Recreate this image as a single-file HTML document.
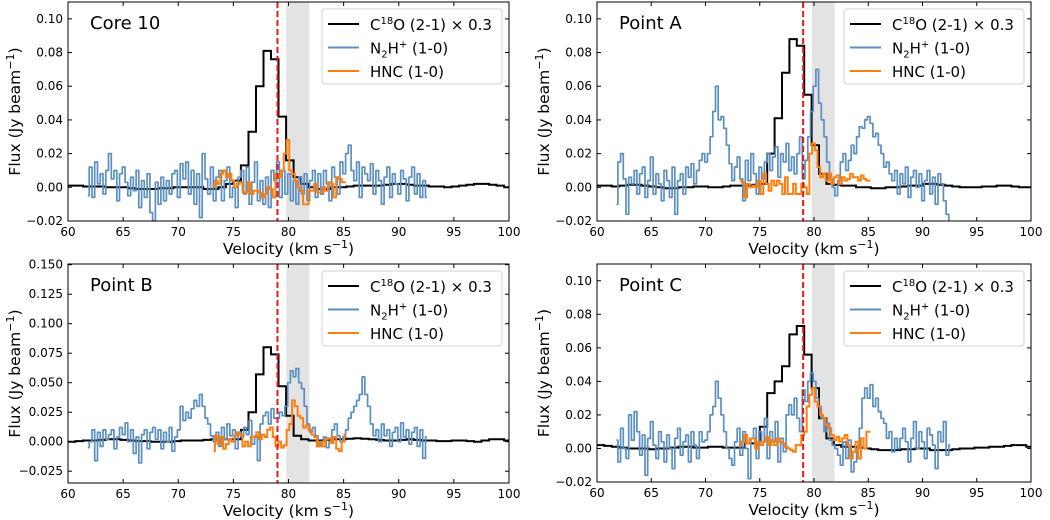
<!DOCTYPE html>
<html><head><meta charset="utf-8"><style>
html,body{margin:0;padding:0;background:#fff;}
svg{display:block;font-family:"DejaVu Sans","Liberation Sans",sans-serif;}
</style></head><body>
<svg id="fig" width="1050" height="520" viewBox="0 0 1050 520" xmlns="http://www.w3.org/2000/svg"></svg>
<script>
// ---- data ----
const c18oBinStart = 60, c18oBinWidth = 0.682;
const n2hStart = 61.8, n2hStep = 0.25;
const hncStart = 73.2, hncStep = 0.25;
const panelTitles = ["Core 10", "Point A", "Point B", "Point C"];
const xTicks = [60, 65, 70, 75, 80, 85, 90, 95, 100];
const yTicksTop = [-0.02, 0, 0.02, 0.04, 0.06, 0.08, 0.10];
const yTickLabelsTop = ["\u22120.02", "0.00", "0.02", "0.04", "0.06", "0.08", "0.10"];
const yTicksB = [-0.025, 0, 0.025, 0.05, 0.075, 0.1, 0.125, 0.15];
const yTickLabelsB = ["\u22120.025", "0.000", "0.025", "0.050", "0.075", "0.100", "0.125", "0.150"];
const systemicVel = 79.0;
const bandRange = [79.8, 81.9];

const c18oCore10 = [0.001,0.001,0.0005,0.0005,0.0005,0,0,0,-0.0005,-0.001,-0.001,-0.001,-0.0005,-0.0005,0,0,0,0,-0.001,-0.001,0,0.002,
 0.004,0.013,0.033,0.060,0.081,0.076,0.042,0.016,0.006,
 0.002,0,-0.001,-0.001,0,0,0.0005,0.001,0.001,0.001,0.001,0.0015,0.002,0.002,0.0015,0.001,0.001,0.0005,0.0005,0,0.0005,0.001,0.0015,0.002,0.002,0.0015,0.001,0];
const c18oA = [0.001,0.001,0.0005,0.001,0.0015,0.0015,0.001,0.0005,0,-0.0005,-0.0005,0,0,0.0005,0.0005,0,0,0.0005,0.001,0.001,0.001,0.0015,
 0.002,0.020,0.041,0.068,0.088,0.084,0.055,0.025,0.008,
 0.002,0.0015,0.001,0.001,0,0,-0.0005,-0.0005,0,0,0.0005,0.001,0.001,0.002,0.002,0.0015,0.001,0.0005,0,0,0,0.0005,0.0005,0.001,0.001,0.0005,0,0];
const c18oB = [0,0.0005,0.001,0.001,0.0015,0.002,0.002,0.0015,0.001,0.0005,0.0005,0,0,0,0.0005,0.001,0.001,0.001,0.0015,0.002,0.002,0.002,
 0.002,0.010,0.025,0.057,0.080,0.074,0.047,0.022,0.005,
 0.002,0.001,0.001,0.0015,0.002,0.002,0.0025,0.003,0.0025,0.002,0.0015,0.001,0.001,0.0015,0.002,0.0015,0.001,0.001,0.0005,0.0005,0.001,0.001,0.0005,0,0.001,0.002,0.002,0.001];
const c18oC = [0.002,0.0015,0.001,0.0005,0,0,0,-0.0005,0,0,0.0005,0.001,0.001,0.0005,0.0005,0.001,0.001,0.0005,0.0005,0.0005,0.003,0.003,
 0.013,0.033,0.040,0.049,0.068,0.073,0.056,0.036,0.018,0.006,0.002,
 0.001,0.001,0.0005,0,-0.0005,-0.001,-0.001,-0.001,-0.0005,-0.0005,0,0,-0.001,-0.001,-0.001,-0.0005,0,0,0.0005,0.0005,0.001,0.001,0.0015,0.002,0.002,0.001];

const n2hCore10 = [-0.005,0.012,-0.006,0.015,0.002,0.008,-0.004,0.01,0.02,
 0.005,0.01,-0.008,0.008,0.012,0.003,-0.005,0.006,
 -0.002,0.01,-0.012,0.004,-0.006,0.008,-0.015,-0.02,
 0.003,-0.01,0.006,-0.008,0.004,-0.004,0.008,0.01,
 -0.006,0.014,0.005,0.015,-0.004,0.01,-0.01,0.008,
 -0.018,0.02,0.005,-0.004,0.012,-0.008,0.006,0.01,
 -0.008,0.004,0.012,-0.006,0,-0.012,0.006,0.01,
 -0.004,0.012,-0.01,0.003,0.015,-0.008,0.004,-0.01,
 0.006,-0.012,0.01,0.004,0.015,-0.006,0.01,-0.004,
 0.008,-0.008,0.004,-0.01,0.006,-0.004,0.008,-0.008,
 0.004,0.01,-0.006,0.008,-0.004,0.01,0.002,-0.008,
 0.012,0.006,-0.004,0.015,0.008,0.02,0.025,0.01,
 0.004,0.015,-0.006,0.012,0.008,0.004,0.014,-0.004,
 0.01,0.004,-0.01,0.006,0.012,-0.006,0.008,0.002,
 -0.004,0.01,0.005,-0.008,0.006,0.012,-0.004,0.008,
 -0.006,0.004,-0.006];
const n2hA = [-0.01,0.015,0.02,0.005,-0.016,0.006,0.002,0.01,-0.004,
 0.008,0.012,-0.006,0.004,0.018,-0.004,0.008,0.002,
 -0.008,0.01,0.004,-0.006,0.012,-0.016,0.004,0.008,
 -0.004,0.012,0.006,0.014,0.002,0.01,0.016,0.02,
 0.015,0.02,0.03,0.045,0.06,0.04,0.042,0.035,
 0.025,0.014,0.004,0.012,0.018,0.005,-0.008,0.016,
 0.004,0.02,0.008,-0.004,0.012,0.005,0.015,0.02,
 0.01,0.018,0.024,0.006,0.02,0.015,0.026,0.01,
 0.018,0.008,0.02,0.03,0.005,0.016,0.03,0.045,
 0.06,0.07,0.05,0.04,0.03,0.015,0.005,0,
 -0.005,0.004,0.015,0.02,0.01,0.016,0.025,0.02,
 0.03,0.036,0.035,0.04,0.042,0.038,0.03,0.032,
 0.025,0.02,0.012,0.015,0.008,0.004,0.01,-0.004,
 0.008,0.002,0.012,-0.006,0.006,0.01,0,0.008,
 -0.008,0.004,0.01,-0.004,0.006,-0.01,0.008,0.002,
 -0.008,-0.016,-0.025];
const n2hB = [-0.005,0,0.01,-0.016,0.008,-0.004,0.01,0.002,0.006,
 0.01,-0.006,0.004,0.012,0.006,0.016,0,0.01,
 -0.01,0.004,-0.018,0.006,0.01,-0.006,0.008,0.012,
 0.002,0.01,-0.006,0.008,0,0.012,-0.008,0.004,
 0.01,0.03,0.018,0.025,0.02,0.028,0.035,0.03,
 0.04,0.03,0.02,0.015,0.005,0,0.008,-0.004,
 0.012,0.002,0.015,0.005,0.01,-0.006,0.008,0.004,
 0.012,0.006,0.018,-0.002,0.005,-0.016,0.015,0.022,
 0.025,0.015,0.028,0.02,0.02,0.025,0.022,0.03,
 0.05,0.06,0.055,0.062,0.05,0.045,0.03,0.015,
 0.008,0.012,0.005,-0.004,0,0.004,-0.005,0,
 0.01,0.015,0.005,0,0.004,0.01,0.02,0.025,
 0.03,0.035,0.04,0.055,0.04,0.03,0.015,0.005,
 0.01,0,0.015,0.005,0.01,-0.004,0.008,0.012,
 0,0.016,0.004,0.01,-0.002,0.008,0.012,-0.004,
 0.01,-0.014,0.004];
const n2hC = [0.005,-0.008,0.012,0,-0.006,0.02,0.005,0.022,0.01,
 -0.004,0.008,-0.016,0.006,0.016,0.002,-0.006,0.01,
 0.004,-0.008,0.008,0,-0.012,0.006,0.012,-0.004,
 0.004,0.008,-0.008,0.01,0.002,-0.006,0.01,0.004,
 0.005,0.01,0.02,0.025,0.04,0.03,0.02,0.01,
 0,-0.006,-0.01,0.004,0.012,-0.004,0.01,0,
 -0.018,0.006,0.012,-0.006,0.01,0.004,0.018,-0.006,
 0.01,0.004,0.016,-0.008,0.006,-0.002,0.02,0.026,
 0.02,0.03,0.018,0.01,0.035,0.028,0.04,0.045,
 0.04,0.03,0.025,0.018,0.01,0.015,0.005,0.002,
 0,-0.004,-0.01,0.004,-0.006,0.005,-0.014,-0.008,
 0,0.012,0.03,0.036,0.03,0.038,0.025,0.03,
 0.022,0.018,0.015,0.006,0.01,-0.002,0.006,0,
 0.006,0.012,0.004,-0.008,0.006,0.016,0,0.01,
 0.004,-0.006,0.012,0.008,0.002,-0.012,0.01,0.004,
 0.016,-0.004,0.002];

const hncCore10 = [0,0.004,0.002,0.008,0.01,0.006,0.008,0.004,
 0,0.002,0.003,-0.003,-0.003,0.003,-0.004,-0.002,
 -0.002,-0.003,-0.006,-0.004,0,-0.001,-0.006,0.008,
 0.006,0.01,0.02,0.028,0.01,0.008,0.004,0,
 -0.002,-0.01,-0.01,-0.002,-0.002,0.002,-0.003,-0.003,
 0,-0.002,0.003,0.002,-0.006,0.006,0.005,0.003,0.003];
const hncA = [0.004,0.003,-0.006,0.002,0,0.001,0,0.004,
 -0.004,0.008,0.002,-0.002,0.004,0.001,0.004,0.002,
 -0.004,0.006,-0.004,-0.004,0.002,-0.004,-0.004,0.002,
 0,-0.004,0.02,0.026,0.022,0.012,0.006,0.008,
 0.004,0.008,0.002,0.006,0.007,0.002,0.006,0.004,
 0.005,0.008,0.006,0.006,0.004,0.007,0.005,0.004,0.004];
const hncB = [-0.008,0.005,-0.002,0.004,-0.006,-0.002,0.002,0,
 0.005,0.008,0.006,-0.004,0,-0.004,0.004,0.004,
 0.008,0.002,0.006,0.004,0.01,0.012,0.004,-0.004,
 0,-0.005,-0.003,0.01,0.015,0.035,0.03,0.022,
 0.02,0.012,0.014,0.01,0.006,0.004,-0.004,0,
 -0.004,0.002,0.003,-0.001,0.004,-0.006,-0.008,0,0.006];
const hncC = [0.002,0.004,0.008,0.003,0.006,0.006,0,0.004,
 0.002,0.004,0.007,0.002,0.005,0.002,0.006,0.004,
 0.003,0.001,0,-0.001,-0.002,0.002,0.002,0.008,
 0.01,0.025,0.032,0.036,0.028,0.025,0.02,0.018,
 0.014,0.012,0.008,0.005,0.007,0.004,0.006,0.008,
 0.002,-0.006,-0.002,0.004,-0.006,0.006,0,0.01,0.01];

// ---- layout ----
const panels = [
  {l:68,r:509,t:2,b:221,ymin:-0.02,ymax:0.11,yt:yTicksTop,yl:yTickLabelsTop,c18o:c18oCore10,n2h:n2hCore10,hnc:hncCore10,title:panelTitles[0],name:"core-10"},
  {l:597,r:1031,t:2,b:221,ymin:-0.02,ymax:0.11,yt:yTicksTop,yl:yTickLabelsTop,c18o:c18oA,n2h:n2hA,hnc:hncA,title:panelTitles[1],name:"point-a"},
  {l:68,r:509,t:264,b:483,ymin:-0.035,ymax:0.1506,yt:yTicksB,yl:yTickLabelsB,c18o:c18oB,n2h:n2hB,hnc:hncB,title:panelTitles[2],name:"point-b"},
  {l:597,r:1031,t:264,b:482,ymin:-0.02,ymax:0.11,yt:yTicksTop,yl:yTickLabelsTop,c18o:c18oC,n2h:n2hC,hnc:hncC,title:panelTitles[3],name:"point-c"}
];
const NS = "http://www.w3.org/2000/svg";
const svg = document.getElementById("fig");
function mk(tag, attrs, parent){
  const e = document.createElementNS(NS, tag);
  for (const k in attrs) e.setAttribute(k, attrs[k]);
  (parent||svg).appendChild(e);
  return e;
}
panels.forEach(p => {
  const g = mk("g", {});
  
  
  const xs = v => p.l + (v - 60) / 40 * (p.r - p.l);
  const ys = v => p.b - (v - p.ymin) / (p.ymax - p.ymin) * (p.b - p.t);
  const clip = mk("clipPath", {id: "clip-" + p.name}, g);
  mk("rect", {x:p.l, y:p.t, width:p.r-p.l, height:p.b-p.t}, clip);
  const plot = mk("g", {"clip-path": "url(#clip-" + p.name + ")"}, g);
  const band = mk("rect", {x:xs(bandRange[0]), y:p.t, width:xs(bandRange[1])-xs(bandRange[0]), height:p.b-p.t, fill:"#e3e3e3"}, plot);
  
  
  function midPath(start, step, vals){
    let d = "";
    vals.forEach((v, i) => {
      const x0 = xs(start + (i - 0.5) * step), x1 = xs(start + (i + 0.5) * step);
      const y = ys(v);
      d += (i === 0 ? "M" + xs(start).toFixed(1) + "," + y.toFixed(1) : "L" + x0.toFixed(1) + "," + y.toFixed(1));
      d += " L" + (i === vals.length - 1 ? xs(start + i * step) : x1).toFixed(1) + "," + y.toFixed(1) + " ";
    });
    return d;
  }
  function binPath(vals){
    let d = "";
    vals.forEach((v, i) => {
      const x0 = xs(c18oBinStart + i * c18oBinWidth), x1 = xs(c18oBinStart + (i + 1) * c18oBinWidth);
      const y = ys(v);
      d += (i === 0 ? "M" : "L") + x0.toFixed(1) + "," + y.toFixed(1) + " L" + x1.toFixed(1) + "," + y.toFixed(1) + " ";
    });
    return d;
  }
  const l1 = mk("path", {d: binPath(p.c18o), fill:"none", stroke:"#000", "stroke-width":2}, plot);
  
  
  const l2 = mk("path", {d: midPath(n2hStart, n2hStep, p.n2h), fill:"none", stroke:"#5b8fc2", "stroke-width":1.7, "stroke-linejoin":"round"}, plot);
  
  
  const l3 = mk("path", {d: midPath(hncStart, hncStep, p.hnc), fill:"none", stroke:"#ff7f0e", "stroke-width":2}, plot);
  
  
  const rl = mk("line", {x1:xs(systemicVel), x2:xs(systemicVel), y1:p.t, y2:p.b, stroke:"#e8161b", "stroke-width":2, "stroke-dasharray":"6,3"}, plot);
  
  
  mk("rect", {x:p.l, y:p.t, width:p.r-p.l, height:p.b-p.t, fill:"none", stroke:"#000", "stroke-width":1}, g);
  xTicks.forEach(v => {
    const x = xs(v);
    mk("line", {x1:x, x2:x, y1:p.b, y2:p.b-4, stroke:"#000"}, g);
    mk("line", {x1:x, x2:x, y1:p.t, y2:p.t+4, stroke:"#000"}, g);
    const t = mk("text", {x:x, y:p.b+15, "font-size":12, "text-anchor":"middle"}, g);
    t.textContent = v;
    
    
  });
  p.yt.forEach((v, i) => {
    const y = ys(v);
    mk("line", {x1:p.l, x2:p.l+4, y1:y, y2:y, stroke:"#000"}, g);
    mk("line", {x1:p.r, x2:p.r-4, y1:y, y2:y, stroke:"#000"}, g);
    const t = mk("text", {x:p.l-5, y:y+4, "font-size":12, "text-anchor":"end"}, g);
    t.textContent = p.yl[i];
    
    
  });
  const xl = mk("text", {x:(p.l+p.r)/2, y:p.b+33, "font-size":15.5, "text-anchor":"middle"}, g);
  xl.innerHTML = 'Velocity (km s<tspan dy="-6" font-size="11">\u22121</tspan><tspan dy="6">)</tspan>';
  
  
  const cy = (p.t + p.b) / 2, cx = p.l - 48;
  const yl = mk("text", {x:cx, y:cy, "font-size":15.5, "text-anchor":"middle", transform:"rotate(-90 " + cx + " " + cy + ")"}, g);
  yl.innerHTML = 'Flux (Jy beam<tspan dy="-6" font-size="11">\u22121</tspan><tspan dy="6">)</tspan>';
  
  
  const tt = mk("text", {x:p.l+22, y:p.t+27, "font-size":18}, g);
  tt.textContent = p.title;
  
  
  const lg = mk("g", {}, g);
  
  
  const lx = p.r - 187, ly = p.t + 7;
  mk("rect", {x:lx, y:ly, width:180, height:75, rx:3, fill:"#fff", "fill-opacity":0.85, stroke:"#d0d0d0"}, lg);
  const entries = [
    ["#000", 'C<tspan dy="-6" font-size="10">18</tspan><tspan dy="6">O (2-1) \u00d7 0.3</tspan>', "legend-entry-c18o"],
    ["#5b8fc2", 'N<tspan dy="4" font-size="10">2</tspan><tspan dy="-4">H</tspan><tspan dy="-6" font-size="10">+</tspan><tspan dy="6">  (1-0)</tspan>', "legend-entry-n2h"],
    ["#ff7f0e", 'HNC (1-0)', "legend-entry-hnc"]
  ];
  entries.forEach((e, i) => {
    const yy = ly + 15 + i * 23.5;
    mk("line", {x1:lx+6, x2:lx+37, y1:yy, y2:yy, stroke:e[0], "stroke-width":2}, lg);
    const t = mk("text", {x:lx+48, y:yy+6, "font-size":15, "xml:space":"preserve"}, lg);
    t.innerHTML = e[1];
    
    
  });
});
</script>
</body></html>
